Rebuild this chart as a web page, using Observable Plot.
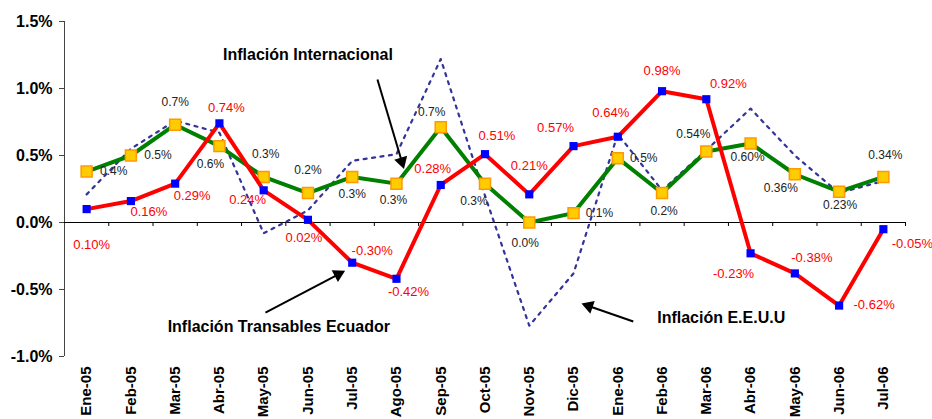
<!DOCTYPE html>
<html><head><meta charset="utf-8">
<script src="https://cdn.jsdelivr.net/npm/d3@7"></script>
<script src="https://cdn.jsdelivr.net/npm/@observablehq/plot@0.6"></script>
<style>
body{margin:0;background:#fff}
#chart svg{display:block;font-family:"Liberation Sans",Arial,sans-serif}
</style>
</head><body><div id="chart"></div>
<script>
// ---- data ----
const months = ["Ene-05","Feb-05","Mar-05","Abr-05","May-05","Jun-05","Jul-05","Ago-05","Sep-05","Oct-05","Nov-05","Dic-05","Ene-06","Feb-06","Mar-06","Abr-06","May-06","Jun-06","Jul-06"];
const transablesEcuador = [0.10,0.16,0.29,0.74,0.24,0.02,-0.30,-0.42,0.28,0.51,0.21,0.57,0.64,0.98,0.92,-0.23,-0.38,-0.62,-0.05];
const transablesLabels = ["0.10%","0.16%","0.29%","0.74%","0.24%","0.02%","-0.30%","-0.42%","0.28%","0.51%","0.21%","0.57%","0.64%","0.98%","0.92%","-0.23%","-0.38%","-0.62%","-0.05%"];
const internacional = [0.38,0.50,0.73,0.57,0.34,0.22,0.34,0.29,0.71,0.29,0.00,0.07,0.48,0.22,0.53,0.59,0.36,0.23,0.34];
const internacionalLabels = ["0.4%","0.5%","0.7%","0.6%","0.3%","0.2%","0.3%","0.3%","0.7%","0.3%","0.0%","0.1%","0.5%","0.2%","0.54%","0.60%","0.36%","0.23%","0.34%"];
const eeuu = [0.21,0.55,0.76,0.67,-0.08,0.09,0.46,0.51,1.22,0.20,-0.77,-0.38,0.66,0.24,0.54,0.85,0.50,0.22,0.31];
const yTicks = [-1.0,-0.5,0.0,0.5,1.0,1.5];
const seriesNames = ["Inflación Internacional","Inflación Transables Ecuador","Inflación E.E.U.U"];

// ---- layout (label offsets in px, annotation placement in data units) ----
const W = 932, H = 419, ML = 64, MR = 27, MT = 21, MB = 63;
const redOffsets = [[5,36],[18,11],[17,12],[7,-16],[-16,9],[-4,18],[20,-12],[12,13],[-8,-16],[12,-18],[0,-29],[-18,-18],[-7,-24],[0,-20],[22,-15],[-17,21],[17,-16],[35,-1],[29,15]];
const greenOffsets = [[27,0],[27,0],[0,-23],[-9,18],[2,-23],[0,-23],[0,17],[-3,17],[-9,-15],[-11,18],[-4,21],[26,0],[26,0],[2,18],[-13,-17],[-3,14],[-14,14],[1,13],[2,-22]];
const annotations = [
  {text: seriesNames[0], x: 5.0, y: 1.25, anchor: "middle", ax1: 6.57, ay1: 1.067, ax2: 7.17, ay2: 0.40},
  {text: seriesNames[1], x: 1.83, y: -0.776, anchor: "start", ax1: 4.04, ay1: -0.672, ax2: 5.84, ay2: -0.36},
  {text: seriesNames[2], x: 12.89, y: -0.709, anchor: "start", ax1: 12.35, ay1: -0.739, ax2: 11.18, ay2: -0.605}
];

const idx = d3.range(months.length);
const font = "Liberation Sans, Arial, sans-serif";

// arrowheads: filled triangles oriented along each arrow (pixel geometry from the plot frame)
const pxX = (W - ML - MR) / 19, pxY = (H - MT - MB) / 2.5;
const headR = 5;
const headBack = 2 * (Math.sqrt(4 * Math.PI * headR * headR / Math.sqrt(3)) * Math.sqrt(3) / 2) / 3;
const heads = annotations.map(a => {
  const dxp = (a.ax2 - a.ax1) * pxX, dyp = -(a.ay2 - a.ay1) * pxY;
  const len = Math.hypot(dxp, dyp), ux = dxp / len, uy = dyp / len;
  return {
    x: a.ax2 - ux * headBack / pxX,
    y: a.ay2 + uy * headBack / pxY,
    sx2: a.ax2 - ux * (headBack + 2) / pxX,
    sy2: a.ay2 + uy * (headBack + 2) / pxY,
    rot: Math.atan2(ux, -uy) * 180 / Math.PI
  };
});

const marks = [
  // axes
  Plot.ruleX([-0.5], {y1: -1, y2: 1.5, stroke: "#444"}),
  Plot.ruleY([0], {stroke: "#000"}),
  Plot.ruleX(idx.map(i => i + 0.5), {y1: 0, y2: -0.03, stroke: "#000"}),
  Plot.axisY({ticks: yTicks, tickFormat: d => d.toFixed(1) + "%", tickSize: 5, tickPadding: 7,
    fontSize: 16, fontWeight: "bold", fill: "#000", stroke: "#444", label: null}),
  Plot.axisX({ticks: idx, tickFormat: i => months[i], tickRotate: -90, tickSize: 0, tickPadding: 10,
    fontSize: 15, fontWeight: "bold", fill: "#000", label: null}),
  // EEUU dotted
  Plot.line(idx, {x: i => i, y: i => eeuu[i], stroke: "#333399", strokeWidth: 2.2, strokeDasharray: "3,5.5"}),
  // Internacional
  Plot.line(idx, {x: i => i, y: i => internacional[i], stroke: "#008000", strokeWidth: 4}),
  Plot.dot(idx, {x: i => i, y: i => internacional[i], symbol: "square", r: 6.2, fill: "#FFCC00", stroke: "#FF9900", strokeWidth: 1.5}),
  // Transables Ecuador
  Plot.line(idx, {x: i => i, y: i => transablesEcuador[i], stroke: "#FF0000", strokeWidth: 4}),
  Plot.dot(idx, {x: i => i, y: i => transablesEcuador[i], symbol: "square", r: 4.6, fill: "#0000FF", stroke: "none"}),
  // data labels
  ...idx.map(i => Plot.text([i], {x: d => d, y: d => internacional[d], text: d => internacionalLabels[d],
    dx: greenOffsets[i][0], dy: greenOffsets[i][1], fontSize: 12, fill: "#222", fontFamily: font})),
  ...idx.map(i => Plot.text([i], {x: d => d, y: d => transablesEcuador[d], text: d => transablesLabels[d],
    dx: redOffsets[i][0], dy: redOffsets[i][1], fontSize: 13, fill: "#FF0000", fontFamily: font})),
  // annotations
  Plot.link(annotations.map((a, k) => ({...a, ...heads[k]})), {x1: "ax1", y1: "ay1", x2: "sx2", y2: "sy2", stroke: "#000", strokeWidth: 2}),
  Plot.dot(heads, {x: "x", y: "y", rotate: "rot", symbol: "triangle", r: headR, fill: "#000", stroke: "none"}),
  ...annotations.map(a => Plot.text([a], {x: "x", y: "y", text: "text", textAnchor: a.anchor,
    fontSize: 16, fontWeight: "bold", fill: "#000", fontFamily: font}))
];

const chart = Plot.plot({
  width: W,
  height: H,
  marginLeft: ML,
  marginRight: MR,
  marginTop: MT,
  marginBottom: MB,
  style: {fontFamily: font, background: "#fff", overflow: "visible"},
  x: {type: "linear", domain: [-0.5, 18.5], axis: null},
  y: {domain: [-1, 1.5], axis: null},
  marks
});
document.getElementById("chart").appendChild(chart);
</script>
</body></html>
